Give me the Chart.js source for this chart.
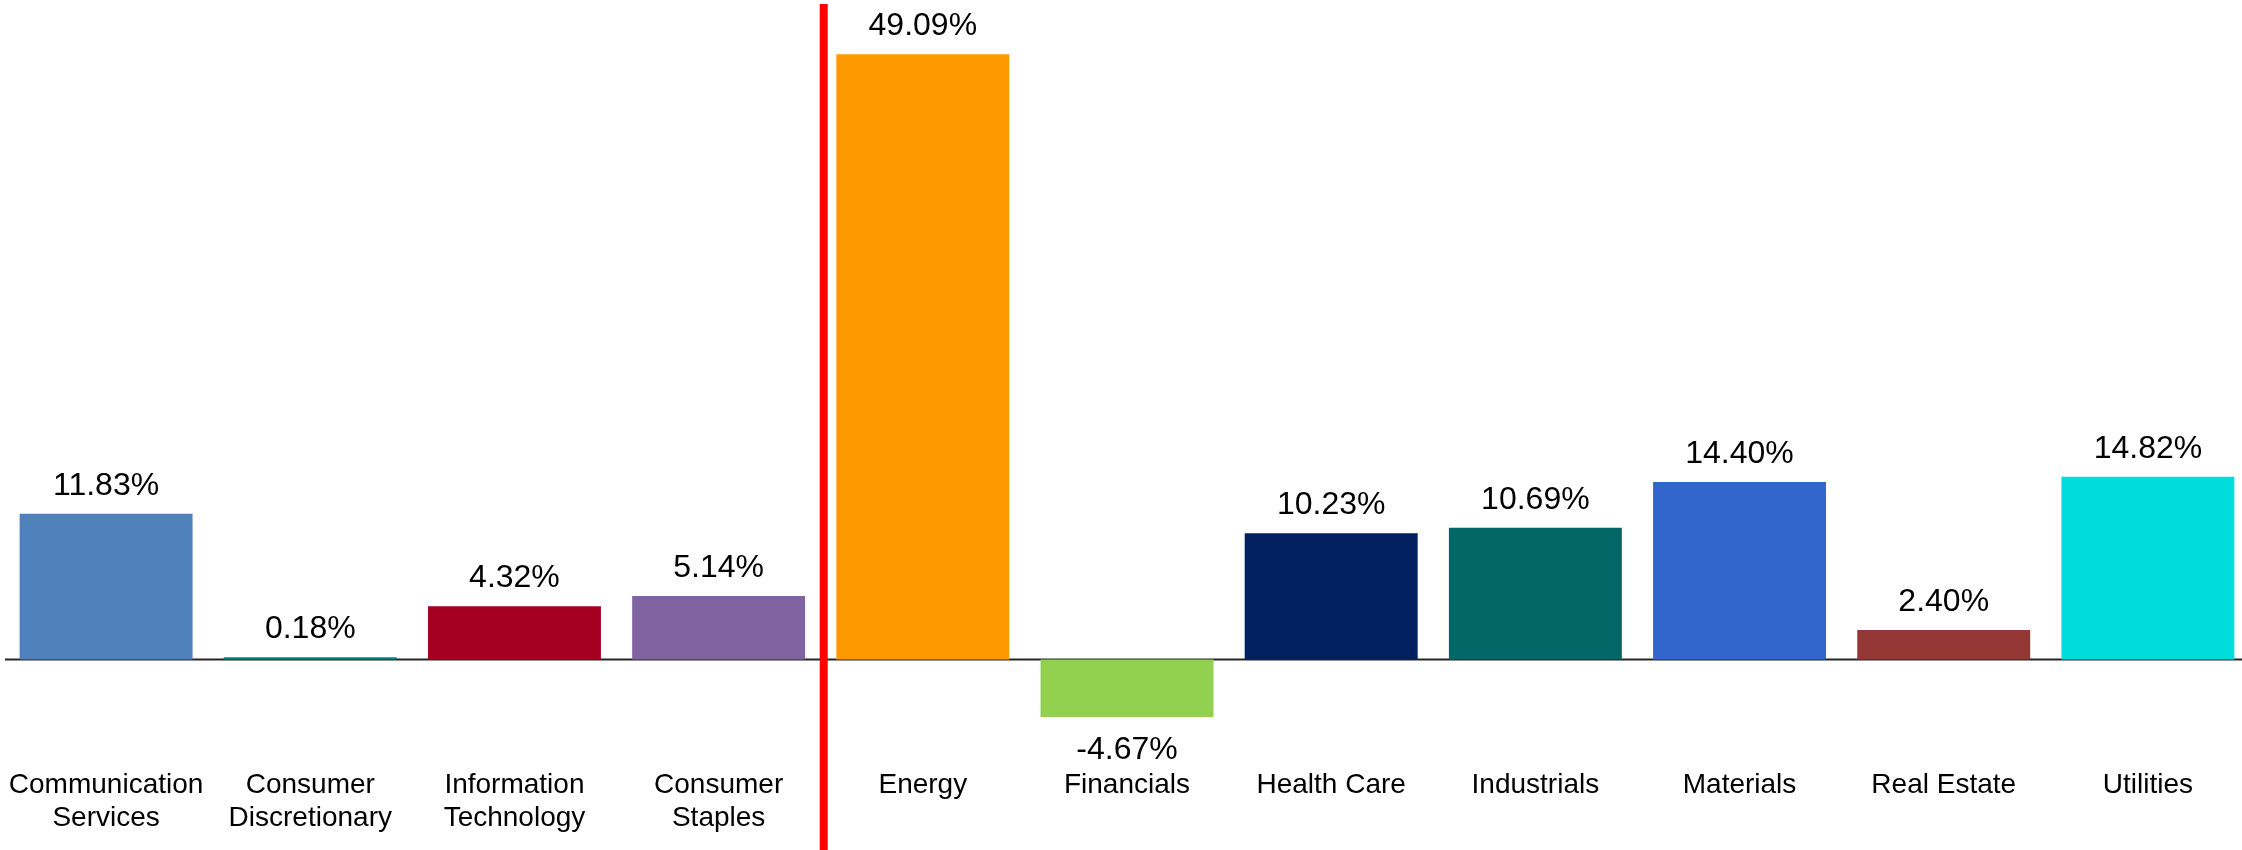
<!DOCTYPE html>
<html>
<head>
<meta charset="utf-8">
<title>Sector returns</title>
<script src="https://cdn.jsdelivr.net/npm/chart.js@4/dist/chart.umd.min.js"></script>
<style>
  html, body { margin: 0; padding: 0; background: #fff; overflow: hidden; }
  #wrap { position: relative; width: 2252px; height: 850px; }
</style>
</head>
<body>
<div id="wrap"><canvas id="sectorChart" width="2252" height="850"></canvas></div>
<script>
// sector labels (two-line where the label wraps)
const sectors = [
  ['Communication', 'Services'],
  ['Consumer', 'Discretionary'],
  ['Information', 'Technology'],
  ['Consumer', 'Staples'],
  'Energy',
  'Financials',
  'Health Care',
  'Industrials',
  'Materials',
  'Real Estate',
  'Utilities'
];

// returns in percent
const returns = [11.83, 0.18, 4.32, 5.14, 49.09, -4.67, 10.23, 10.69, 14.40, 2.40, 14.82];

const barColors = [
  '#4F81BD', '#00857C', '#A50021', '#8064A2', '#FF9900', '#92D050',
  '#002060', '#006666', '#3366CC', '#953735', '#00DCDC'
];

const FONT = 'Arial, "Liberation Sans", Helvetica, sans-serif';

// zero line under the bars
const zeroLine = {
  id: 'zeroLine',
  beforeDatasetsDraw(chart) {
    const ctx = chart.ctx;
    const y = chart.scales.y.getPixelForValue(0);
    ctx.save();
    ctx.strokeStyle = '#262626';
    ctx.lineWidth = 2;
    ctx.beginPath();
    ctx.moveTo(5, y);
    ctx.lineTo(chart.width, y);
    ctx.stroke();
    ctx.restore();
  }
};

// value above/below each bar + red divider after Consumer Staples
const barLabels = {
  id: 'barLabels',
  afterDatasetsDraw(chart) {
    const ctx = chart.ctx;
    const meta = chart.getDatasetMeta(0);
    ctx.save();
    ctx.font = '32px ' + FONT;
    ctx.fillStyle = '#000';
    ctx.textAlign = 'center';
    ctx.textBaseline = 'alphabetic';
    meta.data.forEach((bar, i) => {
      const v = returns[i];
      const txt = v.toFixed(2) + '%';
      const y = v >= 0 ? bar.y - 19 : bar.y + 42;
      ctx.fillText(txt, bar.x, y);
    });

    const xs = chart.scales.x;
    const xDiv = (xs.getPixelForValue(3) + xs.getPixelForValue(4)) / 2 + 3;
    ctx.strokeStyle = '#FF0000';
    ctx.lineWidth = 8;
    ctx.beginPath();
    ctx.moveTo(xDiv, 4);
    ctx.lineTo(xDiv, chart.height);
    ctx.stroke();
    ctx.restore();
  }
};

new Chart(document.getElementById('sectorChart').getContext('2d'), {
  type: 'bar',
  data: {
    labels: sectors,
    datasets: [{
      data: returns,
      backgroundColor: barColors,
      borderWidth: 0,
      barPercentage: 1,
      categoryPercentage: 0.847
    }]
  },
  options: {
    responsive: false,
    animation: false,
    layout: { padding: { left: 4, right: 2, top: 0, bottom: 0 } },
    plugins: {
      legend: { display: false },
      tooltip: { enabled: false }
    },
    scales: {
      x: {
        grid: { display: false, drawTicks: false },
        border: { display: false },
        ticks: {
          color: '#000',
          font: { family: FONT, size: 28, lineHeight: 1.2 },
          padding: 28,
          maxRotation: 0,
          autoSkip: false
        },
        afterFit(scale) {
          // fixed axis height, no extra side padding for wide edge labels
          scale.height = 110;
          scale.paddingLeft = 0;
          scale.paddingRight = 0;
        }
      },
      y: {
        display: false,
        min: -6.53,
        max: 53.49
      }
    }
  },
  plugins: [zeroLine, barLabels]
});
</script>
</body>
</html>
